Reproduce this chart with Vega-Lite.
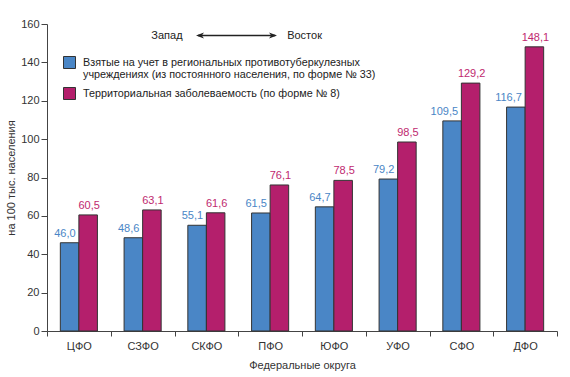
{
  "$schema": "https://vega.github.io/schema/vega-lite/v6.json",
  "autosize": "none",
  "width": 510,
  "height": 307,
  "padding": {"left": 47, "top": 24, "right": 13, "bottom": 46},
  "background": "white",
  "config": {
    "view": {"stroke": null},
    "font": "Liberation Sans",
    "locale": {"number": {"decimal": ",", "thousands": " ", "grouping": [3], "currency": ["", ""]}},
    "axis": {"labelFont": "Liberation Sans", "titleFont": "Liberation Sans", "labelFontSize": 11, "titleFontSize": 11, "labelColor": "#333", "titleColor": "#333", "titleFontWeight": "normal", "domainColor": "#444", "tickColor": "#444", "grid": false, "labelOverlap": false}
  },
  "datasets": {
    "bars": [
      {"district": "ЦФО", "series": "A", "value": 46.0},
      {"district": "ЦФО", "series": "B", "value": 60.5},
      {"district": "СЗФО", "series": "A", "value": 48.6},
      {"district": "СЗФО", "series": "B", "value": 63.1},
      {"district": "СКФО", "series": "A", "value": 55.1},
      {"district": "СКФО", "series": "B", "value": 61.6},
      {"district": "ПФО", "series": "A", "value": 61.5},
      {"district": "ПФО", "series": "B", "value": 76.1},
      {"district": "ЮФО", "series": "A", "value": 64.7},
      {"district": "ЮФО", "series": "B", "value": 78.5},
      {"district": "УФО", "series": "A", "value": 79.2},
      {"district": "УФО", "series": "B", "value": 98.5},
      {"district": "СФО", "series": "A", "value": 109.5},
      {"district": "СФО", "series": "B", "value": 129.2},
      {"district": "ДФО", "series": "A", "value": 116.7},
      {"district": "ДФО", "series": "B", "value": 148.1}
    ],
    "words": [
      {"pos": 1.882, "value": 154.0, "label": "Запад"},
      {"pos": 4.04, "value": 154.0, "label": "Восток"}
    ],
    "arrow": [
      {"pos": 2.37, "pos2": 3.58, "value": 154.0}
    ],
    "heads": [
      {"pos": 2.40, "value": 154.0, "dir": "left"},
      {"pos": 3.545, "value": 154.0, "dir": "right"}
    ]
  },
  "encoding": {
    "y": {"field": "value", "type": "quantitative",
      "scale": {"domain": [0, 160], "nice": false},
      "axis": {"title": "на 100 тыс. населения", "values": [0, 20, 40, 60, 80, 100, 120, 140, 160], "labelOverlap": false, "tickSize": 6, "labelPadding": 2, "titlePadding": 4}}
  },
  "layer": [
    {
      "data": {"name": "bars"},
      "encoding": {
        "x": {"field": "district", "type": "nominal", "sort": null,
          "scale": {"paddingInner": 0, "paddingOuter": 0},
          "axis": {"title": "Федеральные округа", "labelAngle": 0, "tickBand": "extent", "tickSize": 5, "labelPadding": 4, "titlePadding": 8}},
        "xOffset": {"field": "series", "type": "nominal", "scale": {"paddingInner": 0, "paddingOuter": 0.72}}
      },
      "layer": [
        {
          "mark": {"type": "bar", "stroke": "#333", "strokeWidth": 1},
          "encoding": {
            "color": {"field": "series", "type": "nominal",
              "scale": {"domain": ["A", "B"], "range": ["#4a86c6", "#b41f6c"]},
              "legend": {"orient": "none", "legendX": 16, "legendY": 32, "title": null,
                "symbolType": "square", "symbolSize": 144, "symbolStrokeColor": "#333", "symbolStrokeWidth": 1, "symbolOpacity": 1,
                "labelFont": "Liberation Sans", "labelFontSize": 10.8, "labelColor": "#222", "labelOffset": 7, "labelLimit": 400, "rowPadding": 4,
                "labelExpr": "datum.value == 'A' ? ['Взятые на учет в региональных противотуберкулезных', 'учреждениях (из постоянного населения, по форме № 33)'] : 'Территориальная заболеваемость (по форме № 8)'"}}
          }
        },
        {
          "transform": [{"filter": "datum.series == 'A'"}],
          "mark": {"type": "text", "baseline": "bottom", "align": "right", "dy": -4, "dx": 6, "fontSize": 11, "color": "#4a86c6", "font": "Liberation Sans"},
          "encoding": {"text": {"field": "value", "type": "quantitative", "format": ".1f"}}
        },
        {
          "transform": [{"filter": "datum.series == 'B'"}],
          "mark": {"type": "text", "baseline": "bottom", "dy": -4, "dx": 1, "fontSize": 11, "color": "#c0296f", "font": "Liberation Sans"},
          "encoding": {"text": {"field": "value", "type": "quantitative", "format": ".1f"}}
        }
      ]
    },
    {
      "data": {"name": "words"},
      "mark": {"type": "text", "fontSize": 11, "color": "#222", "font": "Liberation Sans", "baseline": "middle"},
      "encoding": {
        "x": {"field": "pos", "type": "quantitative", "scale": {"domain": [0, 8], "nice": false}, "axis": null},
        "text": {"field": "label"}
      }
    },
    {
      "data": {"name": "arrow"},
      "mark": {"type": "rule", "color": "#222", "strokeWidth": 1.5},
      "encoding": {
        "x": {"field": "pos", "type": "quantitative", "scale": {"domain": [0, 8], "nice": false}, "axis": null},
        "x2": {"field": "pos2"}
      }
    },
    {
      "data": {"name": "heads"},
      "mark": {"type": "point", "filled": true, "color": "#222", "opacity": 1, "size": 64},
      "encoding": {
        "x": {"field": "pos", "type": "quantitative", "scale": {"domain": [0, 8], "nice": false}, "axis": null},
        "shape": {"field": "dir", "type": "nominal", "legend": null,
          "scale": {"domain": ["left", "right"], "range": ["M-1,0L1,-0.75L0.45,0L1,0.75Z", "M1,0L-1,-0.75L-0.45,0L-1,0.75Z"]}}
      }
    }
  ],
  "resolve": {"scale": {"x": "independent"}, "axis": {"x": "independent"}}
}
